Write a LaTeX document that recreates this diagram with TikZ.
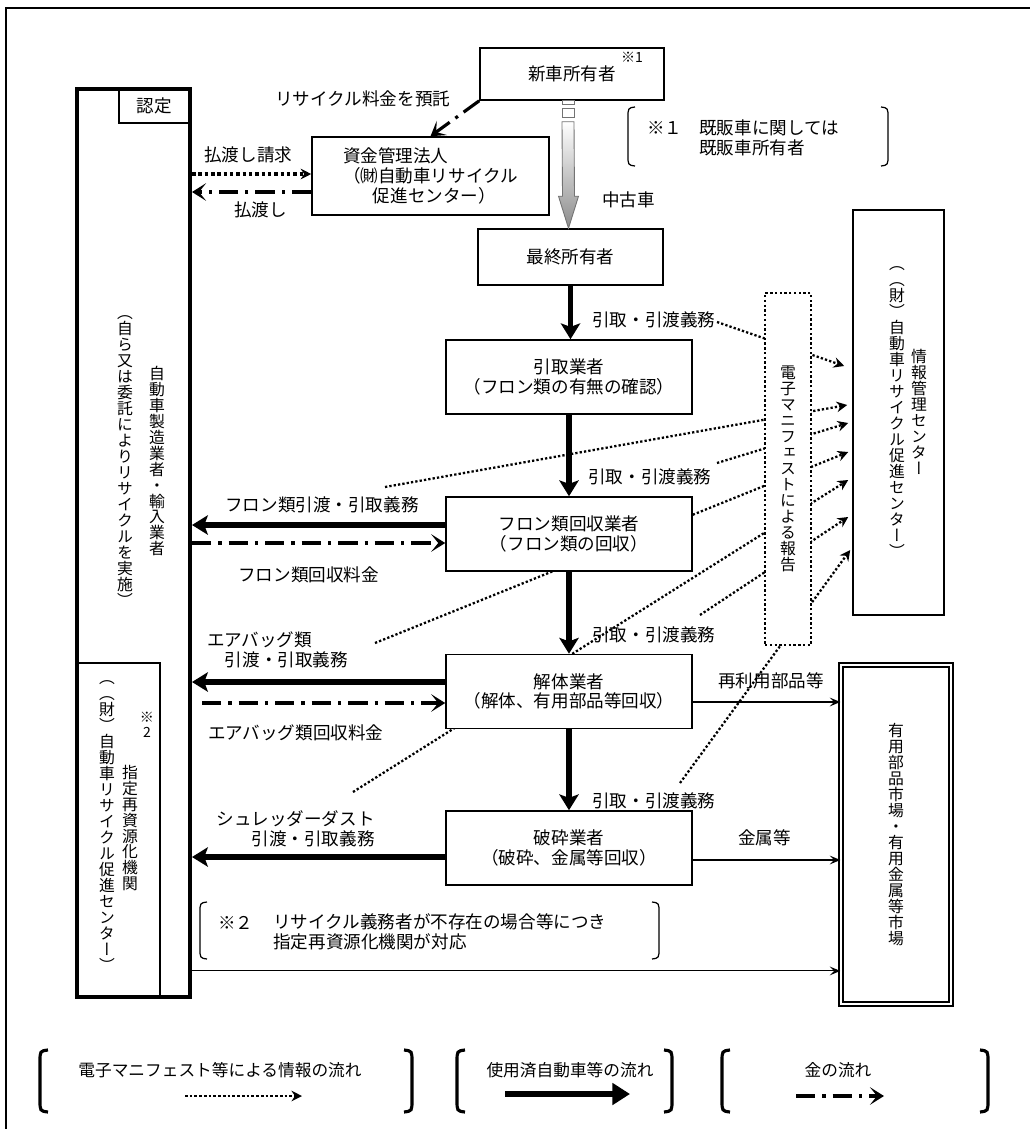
\documentclass[tikz,border=0pt]{standalone}
\usepackage{fontspec}
\setmainfont{Noto Sans CJK JP}
\newfontfamily\tatefont[RawFeature=+vert]{Noto Sans CJK JP}
\usetikzlibrary{arrows.meta,calc,backgrounds}

% vertical text: one glyph per line
\ExplSyntaxOn
\NewDocumentCommand \tate { O{9.1pt} m }
  {
    \vbox:n
      {
        \baselineskip = #1 \relax
        \lineskiplimit = -\c_max_dim
        \tl_map_inline:nn {#2} { \hbox_to_wd:nn {1em} { \hss ##1 \hss } }
      }
  }
\ExplSyntaxOff

\begin{document}
\begin{tikzpicture}[x=0.02cm,y=-0.02cm,
  box/.style={draw,line width=0.9pt,fill=white,inner sep=0pt,align=center,font=\fontsize{10pt}{11.3pt}\selectfont},
  gbox/.style={box,minimum width=4.92cm,minimum height=1.48cm},
  lbl/.style={inner sep=0pt,font=\fontsize{10pt}{11.3pt}\selectfont},
  vtxt/.style={inner sep=0pt,font=\fontsize{9pt}{9pt}\tatefont},
  flow/.style={line width=3.1pt,-{Stealth[length=9pt,width=11pt,inset=2pt]}},
  money/.style={line width=1.8pt,dash pattern=on 11pt off 4pt on 1.8pt off 4pt,-{Stealth[length=8pt,width=10pt,inset=4pt]}},
  info/.style={line width=1.3pt,dash pattern=on 1.3pt off 1.2pt,-{Stealth[length=6pt,width=6pt,inset=2pt]}},
  thin/.style={line width=0.6pt,-{Stealth[length=6pt,width=5pt,inset=2.5pt]}},
  brk/.style={line width=0.7pt}]
\useasboundingbox (0,0) rectangle (1030,1129);
\draw[line width=0.8pt] (6,8) rectangle (1040,1140);

% main column
\node[box,minimum width=3.68cm,minimum height=1.04cm] (shin) at (572,74) {新車所有者};
\node[lbl,font=\fontsize{8pt}{8pt}\selectfont] (k1) at (632,57) {※1};
\node[box,minimum width=4.74cm,minimum height=1.56cm,align=left] (shikin) at (430.5,176)
  {資金管理法人\\（㈶自動車リサイクル\\\hspace*{1.7em}促進センター）};
\node[box,minimum width=3.70cm,minimum height=1.12cm] (saishu) at (570.5,257) {最終所有者};
\node[gbox] (hikitori) at (569,377) {引取業者\\（フロン類の有無の確認）};
\node[gbox] (furon) at (569,534) {フロン類回収業者\\（フロン類の回収）};
\node[gbox] (kaitai) at (569,691.5) {解体業者\\（解体、有用部品等回収）};
\node[gbox] (hasai) at (569,848) {破砕業者\\（破砕、金属等回収）};

% left column
\node[draw,line width=2.3pt,fill=white,minimum width=2.26cm,minimum height=18.16cm] (maker) at (133.5,543) {};
\node[draw,line width=0.8pt,minimum width=1.66cm,minimum height=6.68cm] (shitei) at (118.5,830) {};
\node[draw,line width=0.8pt,minimum width=1.42cm,minimum height=0.68cm,lbl] (nintei) at (154.5,106) {認定};
\node[vtxt] (makerA) at (157,461) {\tate{自動車製造業者・輸入業者}};
\node[vtxt] (makerB) at (125,461) {\tate{（自ら又は委託によりリサイクルを実施）}};
\node[vtxt,font=\fontsize{8pt}{8pt}\tatefont] (k2) at (147,725) {\tate[8.5pt]{※2}};
\node[vtxt] (shiteiA) at (130,828) {\tate{指定再資源化機関}};
\node[vtxt] (shiteiB) at (107,826) {\tate{（（財）自動車リサイクル促進センター）}};

% right column
\node[draw,line width=0.9pt,fill=white,minimum width=1.82cm,minimum height=8.10cm] (joho) at (898.5,412.5) {};
\node[vtxt] (johoA) at (919,412) {\tate{情報管理センター}};
\node[vtxt] (johoB) at (897,412) {\tate{（（財）自動車リサイクル促進センター）}};
\node[draw,line width=1.4pt,dash pattern=on 1.4pt off 1.3pt,fill=white,inner sep=0pt,
  minimum width=0.92cm,minimum height=7.04cm,vtxt] (denshi) at (788,469) {\tate{電子マニフェストによる報告}};
\node[draw,double,double distance=1.6pt,line width=0.8pt,fill=white,inner sep=0pt,
  minimum width=2.2cm,minimum height=6.78cm,vtxt] (market) at (896,834.5) {\tate{有用部品市場・有用金属等市場}};

% used car (grey arrow)
\coordinate (gt) at ($(shin.south)+(-4,0)$);
\coordinate (gb) at ($(saishu.north)+(-2,0)$);
\draw[black!55,line width=0.5pt] ($(gt)+(-6,0)$) rectangle ($(gt)+(6,4)$);
\draw[black!55,line width=0.5pt] ($(gt)+(-6,8)$) rectangle ($(gt)+(6,17)$);
\shadedraw[top color=white,bottom color=black!45,draw=black!55,line width=0.5pt]
  ($(gt)+(-6,21)$) -- ($(gt)+(6,21)$) -- ($(gb)+(6,-32)$) -- ($(gb)+(10,-32)$) -- (gb)
  -- ($(gb)+(-10,-32)$) -- ($(gb)+(-6,-32)$) -- cycle;
\node[lbl,anchor=west] (chuko) at (602,200) {中古車};

% vehicle flow
\draw[flow] (saishu.south) -- (saishu.south |- hikitori.north);
\draw[flow] (hikitori.south) -- (furon.north);
\draw[flow] (furon.south) -- (kaitai.north);
\draw[flow] (kaitai.south) -- (hasai.north);
\node[lbl,anchor=west] (gimu1) at (592,320) {引取・引渡義務};
\node[lbl,anchor=west] (gimu2) at (588,477) {引取・引渡義務};
\node[lbl,anchor=west] (gimu3) at (592,635) {引取・引渡義務};
\node[lbl,anchor=west] (gimu4) at (592,801) {引取・引渡義務};

% fee deposit and payment
\draw[money] (shin.south west) -- (shikin.north);
\node[lbl,anchor=west] (takuL) at (275,99) {リサイクル料金を預託};
\coordinate (seikyu) at ($(shikin.west)+(0,-2)$);
\draw[info,line width=2pt,dash pattern=on 2pt off 1.6pt] (seikyu -| maker.east) -- (seikyu);
\node[lbl,anchor=west] (seikyuL) at (204,155) {払渡し請求};
\coordinate (harai) at ($(shikin.west)+(0,16)$);
\draw[money] (harai) -- (harai -| maker.east);
\node[lbl,anchor=west] (haraiL) at (234,210) {払渡し};

% freon
\coordinate (fu1) at ($(furon.west)+(0,-9)$);
\draw[flow] (fu1) -- (fu1 -| maker.east);
\coordinate (fu2) at ($(furon.west)+(0,9)$);
\draw[money] (fu2 -| maker.east) -- (fu2);
\node[lbl,anchor=west] (fuL1) at (225,505) {フロン類引渡・引取義務};
\node[lbl,anchor=west] (fuL2) at (238,575) {フロン類回収料金};

% airbag
\coordinate (ka1) at ($(kaitai.west)+(0,-9.5)$);
\draw[flow] (ka1) -- (ka1 -| maker.east);
\coordinate (ka2) at ($(kaitai.west)+(0,11.5)$);
\draw[money] ($(ka2 -| maker.east)+(10,0)$) -- (ka2);
\node[lbl,anchor=west,align=left] (kaL1) at (207,650) {エアバッグ類\\\hspace*{1em}引渡・引取義務};
\node[lbl,anchor=west] (kaL2) at (208,733) {エアバッグ類回収料金};

% shredder dust
\coordinate (ha1) at ($(hasai.west)+(0,9)$);
\draw[flow] (ha1) -- (ha1 -| maker.east);
\node[lbl,anchor=east,align=right] (haL1) at (375,829) {シュレッダーダスト\\引渡・引取義務};

% to market
\coordinate (ka3) at ($(kaitai.east)+(0,10.5)$);
\draw[thin] (ka3) -- (ka3 -| market.west);
\node[lbl,anchor=west] (saiL) at (718,681) {再利用部品等};
\coordinate (ha3) at ($(hasai.east)+(0,12)$);
\draw[thin] (ha3) -- (ha3 -| market.west);
\node[lbl,anchor=west] (kinL) at (738,838) {金属等};
\coordinate (mk3) at ($(maker.south east)+(0,-28)$);
\draw[thin] (mk3) -- (mk3 -| market.west);

% electronic manifest reports
\coordinate (s1) at (717,322);
\coordinate (s2) at (385,487);
\coordinate (s3) at (717,463);
\coordinate (s4) at (375,643);
\coordinate (s5) at (353,792);
\coordinate (s6) at (680,783);
\coordinate (s7) at (700,615);
\begin{scope}[on background layer]
\foreach \s/\dx/\dy in {s1/-8/-46.5, s2/-5/-7.5, s3/-4/10.5, s4/-4/39.5, s5/-4/67.5, s6/-2/137.5, s7/-4/104.5}
  \draw[info] (\s) -- ($(joho.west)+(\dx,\dy)$);
\end{scope}

% notes
\draw[brk] (635,107) .. controls (628,108) .. (628,118) -- (628,155) .. controls (628,165) .. (635,166);
\draw[brk] (881,107) .. controls (888,108) .. (888,118) -- (888,155) .. controls (888,165) .. (881,166);
\node[lbl,anchor=west] (n1k) at (647,128) {※１};
\node[lbl,anchor=west,align=left] (n1t) at (699,138) {既販車に関しては\\既販車所有者};
\draw[brk] (207,902) .. controls (200,903) .. (200,913) -- (200,948) .. controls (200,958) .. (207,959);
\draw[brk] (652,902) .. controls (659,903) .. (659,913) -- (659,948) .. controls (659,958) .. (652,959);
\node[lbl,anchor=west] (n2k) at (218,923) {※２};
\node[lbl,anchor=west,align=left] (n2t) at (273,932) {リサイクル義務者が不存在の場合等につき\\指定再資源化機関が対応};

% legend
\foreach \xa/\xb in {40/412,457/672,722/988}{
  \draw[line width=1.8pt] (\xa+8,1050) .. controls (\xa,1051) .. (\xa,1062) -- (\xa,1100) .. controls (\xa,1111) .. (\xa+8,1112);
  \draw[line width=1.8pt] (\xb-8,1050) .. controls (\xb,1051) .. (\xb,1062) -- (\xb,1100) .. controls (\xb,1111) .. (\xb-8,1112);
}
\node[lbl,font=\fontsize{9.5pt}{9.5pt}\selectfont] (leg1) at (220,1070) {電子マニフェスト等による情報の流れ};
\node[lbl,font=\fontsize{9.5pt}{9.5pt}\selectfont] (leg2) at (570,1070) {使用済自動車等の流れ};
\node[lbl,font=\fontsize{9.5pt}{9.5pt}\selectfont] (leg3) at (838,1070) {金の流れ};
\coordinate (la1) at (185,1096); \coordinate (lb1) at (302,1096);
\draw[info,line width=1.5pt,dash pattern=on 1.5pt off 1.2pt] (la1) -- (lb1);
\coordinate (la2) at (505,1094); \coordinate (lb2) at (630,1094);
\draw[line width=3.6pt,-{Triangle[length=10pt,width=12pt]}] (la2) -- (lb2);
\coordinate (la3) at (796,1096); \coordinate (lb3) at (884,1096);
\draw[money] (la3) -- (lb3);
\end{tikzpicture}
\end{document}
